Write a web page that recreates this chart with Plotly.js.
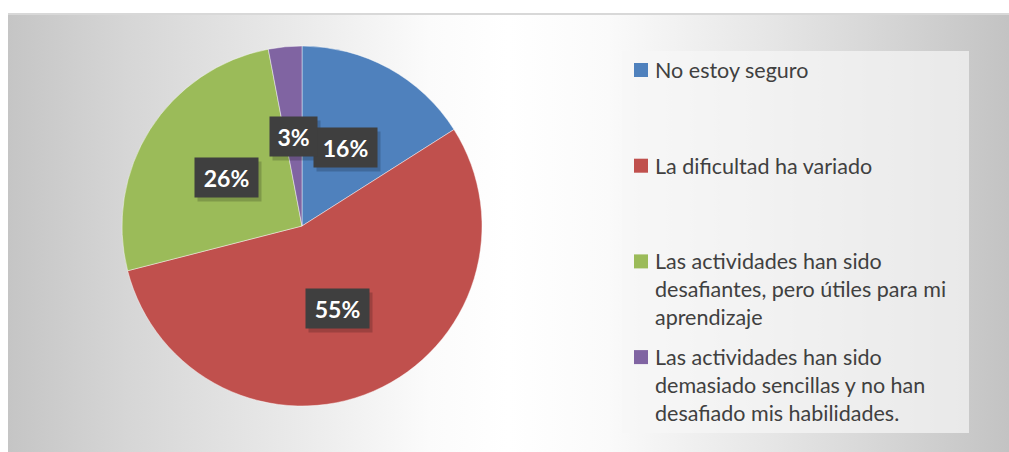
<!DOCTYPE html>
<html>
<head>
<meta charset="utf-8">
<script src="https://cdn.plot.ly/plotly-3.0.1.min.js"></script>
<style>
  html, body { margin:0; padding:0; background:#ffffff; }
  #bg { position:absolute; left:8px; top:13px; width:1001px; height:439px;
        border-top:2px solid #d8d8d8; box-sizing:border-box;
        background: linear-gradient(to right, #c5c5c5 0%, #d6d6d6 12%, #e9e9e9 28%, #fbfbfb 42%, #ffffff 50%, #fafafa 60%, #e6e6e6 76%, #d2d2d2 90%, #c3c3c3 100%); }
  #chart { position:absolute; left:0; top:0; width:1009px; height:452px; }
</style>
</head>
<body>
<div id="bg"></div>
<div id="chart"></div>
<script>
// ---- data ----
const categories = [
  "No estoy seguro",
  "La dificultad ha variado",
  "Las actividades han sido desafiantes, pero útiles para mi aprendizaje",
  "Las actividades han sido demasiado sencillas y no han desafiado mis habilidades."
];
const values = [16, 55, 26, 3];
const colors = ["#4f81bd", "#c0504d", "#9bbb59", "#8064a2"];

// ---- layout constants ----
const W = 1009, H = 452;
const cx = 302, cy = 226, R = 180;        // pie centre / radius in px
const legendX = 634, legendTextX = 653, legendY0 = 70, legendStep = 95.7;
const wrapAt = 32;

const px2x = p => p / W;
const py2y = p => 1 - p / H;

function wrap(s, n) {
  const words = s.split(" "); const lines = []; let cur = "";
  words.forEach(w => {
    if (cur && (cur + " " + w).length > n) { lines.push(cur); cur = w; }
    else cur = cur ? cur + " " + w : w;
  });
  if (cur) lines.push(cur);
  return lines;
}

const total = values.reduce((a, b) => a + b, 0);
const pct = values.map(v => Math.round(v / total * 100) + "%");

const trace = {
  type: "pie",
  values: values,
  labels: categories,
  sort: false,
  direction: "clockwise",
  rotation: 0,
  marker: { colors: colors, line: { color: "rgba(255,255,255,0.55)", width: 0.8 } },
  textinfo: "none",
  hoverinfo: "label+percent",
  showlegend: false,
  domain: { x: [px2x(cx - R), px2x(cx + R)], y: [py2y(cy + R), py2y(cy - R)] }
};

const annotations = [];
const shapes = [];

// legend background box
shapes.push({ type: "rect", xref: "paper", yref: "paper",
  x0: px2x(622), x1: px2x(969), y0: py2y(433), y1: py2y(51),
  fillcolor: "rgba(246,246,246,0.7)", line: { width: 0 }, layer: "below" });

// data labels (computed from slice mid-angles)
let cum = 0;
const shadows = [], boxes = [];
values.forEach((v, i) => {
  const mid = (cum + v / 2) / total * 2 * Math.PI;
  cum += v;
  const lx = cx + 0.5 * R * Math.sin(mid);
  const ly = cy - 0.5 * R * Math.cos(mid);
  const w = 15 + 16 * pct[i].length;
  const base = { xref: "paper", yref: "paper", x: px2x(lx), y: py2y(ly),
    xanchor: "center", yanchor: "middle", showarrow: false,
    width: w, height: 39, borderpad: 0 };
  shadows.push(Object.assign({}, base, { text: " ", bgcolor: "rgba(0,0,0,0.18)",
    xshift: 3, yshift: -4, font: { size: 23, family: "Lato" } }));
  boxes.push(Object.assign({}, base, { text: "<b>" + pct[i] + "</b>",
    bgcolor: "#3f3f3f", font: { size: 23, family: "Lato, Carlito, sans-serif", color: "#ffffff" } }));
});
annotations.push(...shadows, ...boxes);

// custom legend
categories.forEach((c, i) => {
  const yc = legendY0 + legendStep * i;
  shapes.push({ type: "rect", xref: "paper", yref: "paper",
    x0: px2x(legendX), x1: px2x(legendX + 14), y0: py2y(yc + 7), y1: py2y(yc - 7),
    fillcolor: colors[i], line: { width: 0 } });
  annotations.push({ xref: "paper", yref: "paper", x: px2x(legendTextX), y: py2y(yc - 15),
    xanchor: "left", yanchor: "top", align: "left", showarrow: false,
    text: wrap(c, wrapAt).join("<br>"),
    font: { size: 21.5, family: "Lato, Carlito, sans-serif", color: "#404040" } });
});

const layout = {
  width: W, height: H,
  margin: { l: 0, r: 0, t: 0, b: 0 },
  paper_bgcolor: "rgba(0,0,0,0)",
  plot_bgcolor: "rgba(0,0,0,0)",
  showlegend: false,
  annotations: annotations,
  shapes: shapes
};

Plotly.newPlot("chart", [trace], layout, { displayModeBar: false, staticPlot: true });
</script>
</body>
</html>
